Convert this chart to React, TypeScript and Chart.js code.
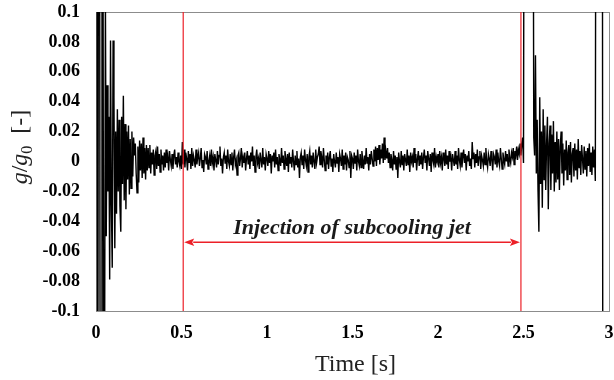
import React, { useEffect, useRef } from "react";
import { Chart, registerables } from "chart.js";

Chart.register(...registerables);

// sampling interval of the recorded signal [s]
const SAMPLE_INTERVAL = 0.005;

// g/g0, one value per sample (0 s ... 3 s)
const gSignal: number[] = [
  0.25, 0.3, -0.3, 0.28, 0.3, -0.26, -0.3, 0.22, 0.25, -0.2, -0.15, 0.11, -0.05, 0.051, -0.02, 0.03, -0.079, 0.081, -0.03, -0.071,
  0.081, 0.043, -0.058, 0.02, -0.035, 0.035, -0.02, 0.028, -0.03, -0.047, 0.03, -0.015, 0.044, -0.026, 0.025, -0.032, 0.02, -0.012, 0.024, -0.022,
  0.015, -0.018, 0.02, -0.01, 0.016, 0.004, 0.012, -0.008, -0.021, 0.01, -0.014, 0.014, -0.006, 0.012, -0.011, 0.016, -0.008, 0.009, -0.012, 0.011,
  -0.006, 0.009, -0.004, 0.011, -0.008, 0.006, -0.002, 0.008, -0.009, 0.004, 0.007, -0.005, 0.01, -0.003, 0.005, -0.007, 0.008, -0.002, 0.004, -0.006,
  0.006, -0.004, 0.008, -0.001, 0.003, -0.006, 0.007, 0.001, -0.003, 0.005, -0.005, 0.004, 0.008, -0.002, 0.003, -0.004, 0.006, 0.0, -0.003, 0.004,
  -0.005, 0.013, -0.002, 0.008, -0.004, 0.006, 0.002, -0.006, 0.007, -0.001, 0.005, -0.005, 0.009, -0.003, 0.004, 0.001, -0.004, 0.008, -0.002, 0.003,
  0.006, -0.003, 0.002, 0.009, -0.004, 0.001, -0.007, 0.005, 0.003, -0.002, 0.007, -0.005, 0.0, 0.004, -0.003, 0.008, -0.001, 0.003, -0.006, 0.005,
  0.001, -0.004, 0.007, -0.002, 0.004, 0.01, -0.003, 0.002, -0.008, 0.003, 0.006, -0.001, 0.004, -0.005, 0.008, 0.0, -0.003, 0.005, -0.002, 0.006,
  -0.006, 0.003, 0.008, -0.002, 0.001, -0.009, 0.004, 0.006, -0.003, 0.002, 0.009, -0.004, 0.003, -0.001, 0.006, -0.006, 0.002, 0.007, -0.002, 0.004,
  -0.005, 0.006, 0.0, 0.01, -0.003, 0.004, -0.007, 0.003, 0.008, -0.001, 0.002, -0.005, 0.006, 0.001, -0.004, 0.009, -0.002, 0.003, -0.006, 0.005,
  0.002, -0.003, 0.007, -0.001, 0.005, -0.008, 0.004, 0.0, 0.006, -0.004, 0.008, -0.002, 0.003, -0.006, 0.005, 0.001, -0.003, 0.009, -0.001, 0.004,
  -0.005, 0.007, 0.002, -0.003, 0.005, -0.007, 0.006, -0.001, 0.003, -0.004, 0.008, 0.0, -0.006, 0.004, -0.002, 0.007, -0.004, 0.002, -0.011, 0.003,
  0.006, -0.002, 0.004, -0.005, 0.008, 0.001, -0.003, 0.005, -0.007, 0.003, 0.007, -0.002, 0.004, -0.004, 0.006, 0.0, -0.005, 0.008, -0.001, 0.003,
  0.005, 0.01, -0.002, 0.007, 0.003, -0.004, 0.009, 0.001, -0.006, 0.004, -0.002, 0.006, -0.005, 0.003, 0.007, -0.003, 0.002, -0.007, 0.005, 0.0,
  -0.004, 0.006, -0.001, 0.003, -0.007, 0.005, 0.002, -0.003, 0.008, -0.005, 0.004, -0.002, 0.006, -0.006, 0.003, 0.001, -0.004, 0.007, -0.011, 0.004,
  0.002, -0.005, 0.006, -0.001, 0.004, -0.006, 0.008, 0.0, -0.003, 0.005, -0.004, 0.007, 0.001, -0.005, 0.004, -0.002, 0.009, -0.001, 0.003, -0.006,
  0.005, -0.002, 0.007, 0.002, -0.003, 0.008, 0.0, 0.01, -0.003, 0.009, 0.001, 0.011, -0.002, 0.008, 0.002, 0.012, -0.001, 0.016, 0.001, 0.007,
  0.002, 0.009, -0.001, 0.006, -0.004, 0.005, 0.001, -0.006, 0.007, -0.002, 0.004, -0.005, 0.003, -0.011, 0.006, 0.0, -0.004, 0.007, -0.002, 0.004,
  -0.006, 0.005, 0.001, -0.003, 0.008, -0.002, 0.004, -0.007, 0.006, 0.0, 0.003, -0.004, 0.009, -0.001, 0.005, -0.006, 0.002, 0.007, -0.003, 0.004,
  -0.002, 0.006, -0.005, 0.003, 0.008, -0.001, 0.004, -0.006, 0.007, 0.002, -0.003, 0.005, -0.007, 0.006, 0.001, -0.002, 0.009, -0.004, 0.003, 0.0,
  0.005, -0.004, 0.007, -0.001, 0.003, -0.006, 0.006, 0.002, -0.003, 0.008, -0.002, 0.004, -0.005, 0.007, 0.0, 0.003, -0.006, 0.005, 0.001, -0.003,
  0.007, -0.002, 0.004, -0.005, 0.009, 0.001, -0.003, 0.006, -0.004, 0.003, 0.008, -0.001, 0.005, -0.006, 0.004, 0.0, 0.007, -0.003, 0.002, -0.005,
  0.013, 0.002, 0.006, -0.004, 0.005, -0.001, 0.008, -0.003, 0.003, 0.007, -0.005, 0.004, 0.001, -0.003, 0.006, -0.002, 0.009, 0.0, -0.004, 0.005,
  0.002, -0.003, 0.007, 0.001, -0.006, 0.005, 0.003, -0.002, 0.008, -0.004, 0.006, 0.0, -0.003, 0.009, 0.002, -0.005, 0.006, 0.001, -0.002, 0.007,
  0.0, 0.005, -0.003, 0.008, 0.002, -0.001, 0.006, 0.003, 0.009, -0.002, 0.007, 0.004, 0.01, 0.001, 0.008, 0.005, 0.012, 0.004, 0.012, 0.016,
  -0.001, 0.35, 0.42, 0.38, 0.45, 0.36, 0.4, 0.33, 0.39, 0.44, 0.37, 0.31, 0.016, 0.004, 0.071, -0.008, 0.028, -0.02, -0.047, 0.043,
  -0.015, 0.02, -0.031, 0.035, -0.012, 0.024, -0.019, 0.012, 0.03, -0.032, 0.012, 0.024, -0.019, 0.018, -0.008, 0.027, -0.02, 0.013, -0.014, 0.02,
  -0.012, 0.015, -0.019, 0.01, 0.02, -0.008, 0.012, -0.016, 0.008, -0.006, 0.014, -0.012, 0.006, 0.011, -0.009, 0.013, -0.014, 0.005, 0.009, -0.01,
  0.012, -0.006, 0.008, -0.012, 0.015, -0.004, 0.007, -0.009, 0.011, 0.002, -0.008, 0.01, -0.005, 0.007, -0.01, 0.009, -0.003, 0.012, -0.007, 0.006,
  -0.009, 0.01, -0.004, 0.008, -0.013, 0.36, 0.42, 0.35, 0.4, 0.45, 0.38, 0.33, 0.41, -0.36, -0.42, -0.38, -0.45, -0.4, -0.37, -0.43, -0.39,
];

const X_TICKS = [0, 0.5, 1, 1.5, 2, 2.5, 3];
const X_TICK_LABELS = ["0", "0.5", "1", "1.5", "2", "2.5", "3"];
const Y_TICKS = [-0.1, -0.08, -0.06, -0.04, -0.02, 0, 0.02, 0.04, 0.06, 0.08, 0.1];
const Y_TICK_LABELS = ["-0.1", "-0.08", "-0.06", "-0.04", "-0.02", "0", "0.02", "0.04", "0.06", "0.08", "0.1"];

const X_MIN = 0;
const X_MAX = 3;
const Y_MIN = -0.1;
const Y_MAX = 0.1;

// injection period markers
const INJECTION_START = 0.51;
const INJECTION_END = 2.485;
const ARROW_Y = -0.054;
const LABEL_Y = -0.0485;
const ANNOTATION_TEXT = "Injection of subcooling jet";
const X_TITLE = "Time [s]";

const RED = "rgb(236, 32, 40)";
const FRAME = "#8c8c8c";
const SERIF = "'Liberation Serif', 'Times New Roman', serif";

const decorPlugin = {
  id: "decor",
  beforeDatasetsDraw(chart: any) {
    const { ctx, chartArea: a } = chart;
    ctx.save();
    ctx.strokeStyle = FRAME;
    ctx.lineWidth = 1;
    ctx.strokeRect(Math.round(a.left) + 0.5, Math.round(a.top) + 0.5, Math.round(a.right - a.left), Math.round(a.bottom - a.top));
    ctx.restore();
  },
  afterDatasetsDraw(chart: any) {
    const { ctx } = chart;
    const xs = chart.scales.x;
    const ys = chart.scales.y;
    const x1 = xs.getPixelForValue(INJECTION_START);
    const x2 = xs.getPixelForValue(INJECTION_END);
    const y = ys.getPixelForValue(ARROW_Y);
    const head = 11;
    const half = 3.8;
    ctx.save();
    ctx.strokeStyle = RED;
    ctx.fillStyle = RED;
    ctx.lineWidth = 1.5;
    ctx.beginPath();
    ctx.moveTo(x1 + head - 1, y);
    ctx.lineTo(x2 - head + 1, y);
    ctx.stroke();
    ctx.beginPath();
    ctx.moveTo(x1 + 1, y);
    ctx.lineTo(x1 + head, y - half);
    ctx.lineTo(x1 + head - 2, y);
    ctx.lineTo(x1 + head, y + half);
    ctx.closePath();
    ctx.fill();
    ctx.beginPath();
    ctx.moveTo(x2 - 1, y);
    ctx.lineTo(x2 - head, y - half);
    ctx.lineTo(x2 - head + 2, y);
    ctx.lineTo(x2 - head, y + half);
    ctx.closePath();
    ctx.fill();
    ctx.fillStyle = "#1a1a1a";
    ctx.font = `italic bold 22px ${SERIF}`;
    ctx.textAlign = "center";
    ctx.textBaseline = "alphabetic";
    ctx.fillText(ANNOTATION_TEXT, (x1 + x2) / 2, ys.getPixelForValue(LABEL_Y));
    ctx.restore();
  },
  afterDraw(chart: any) {
    const { ctx, chartArea: a } = chart;
    ctx.save();
    ctx.fillStyle = "#222";
    // x-axis title
    ctx.font = `24px ${SERIF}`;
    ctx.textAlign = "center";
    ctx.textBaseline = "alphabetic";
    ctx.fillText(X_TITLE, (a.left + a.right) / 2 + 3, 371);
    // y-axis title: g/g0 [-]
    const parts = [
      { t: "g", f: `italic 24px ${SERIF}`, dy: 0 },
      { t: "/", f: `24px ${SERIF}`, dy: 0 },
      { t: "g", f: `italic 24px ${SERIF}`, dy: 0 },
      { t: "0", f: `16px ${SERIF}`, dy: 5 },
      { t: "  [-]", f: `24px ${SERIF}`, dy: 0 },
    ];
    let total = 0;
    const widths = parts.map((p) => {
      ctx.font = p.f;
      const w = ctx.measureText(p.t).width;
      total += w;
      return w;
    });
    ctx.translate(27, 147);
    ctx.rotate(-Math.PI / 2);
    ctx.textAlign = "left";
    let x = -total / 2;
    parts.forEach((p, i) => {
      ctx.font = p.f;
      ctx.fillText(p.t, x, p.dy);
      x += widths[i];
    });
    ctx.restore();
  },
};

export default function App() {
  const ref = useRef<HTMLCanvasElement>(null);
  useEffect(() => {
    const canvas = ref.current;
    if (!canvas) return;
    const signalPoints = gSignal.map((g, i) => ({ x: i * SAMPLE_INTERVAL, y: g }));
    const tickFont = { family: SERIF, size: 18, weight: "bold" as const };
    const chart = new Chart(canvas, {
      type: "line",
      data: {
        datasets: [
          {
            data: [
              { x: INJECTION_START, y: Y_MIN },
              { x: INJECTION_START, y: Y_MAX },
            ],
            borderColor: RED,
            borderWidth: 1.2,
            pointRadius: 0,
            order: 0,
          },
          {
            data: [
              { x: INJECTION_END, y: Y_MIN },
              { x: INJECTION_END, y: Y_MAX },
            ],
            borderColor: RED,
            borderWidth: 1.2,
            pointRadius: 0,
            order: 0,
          },
          {
            data: signalPoints,
            borderColor: "#000",
            borderWidth: 1.4,
            pointRadius: 0,
            tension: 0,
            order: 1,
          },
        ],
      },
      options: {
        responsive: false,
        animation: false,
        devicePixelRatio: 1,
        events: [],
        layout: { padding: { left: 0, top: 12, right: 5, bottom: 0 } },
        plugins: { legend: { display: false }, tooltip: { enabled: false } },
        scales: {
          x: {
            type: "linear",
            min: X_MIN,
            max: X_MAX,
            grid: { display: false, drawTicks: false },
            border: { display: false },
            afterBuildTicks: (s: any) => {
              s.ticks = X_TICKS.map((v) => ({ value: v }));
            },
            afterFit: (s: any) => {
              s.height = 69;
              s.paddingLeft = 0;
              s.paddingRight = 0;
            },
            ticks: {
              autoSkip: false,
              maxRotation: 0,
              padding: 12,
              color: "#000",
              font: tickFont,
              callback: (v: any) => X_TICK_LABELS[X_TICKS.indexOf(Number(v))] ?? "",
            },
          },
          y: {
            type: "linear",
            min: Y_MIN,
            max: Y_MAX,
            grid: { display: false, drawTicks: false },
            border: { display: false },
            afterBuildTicks: (s: any) => {
              s.ticks = Y_TICKS.map((v) => ({ value: v }));
            },
            afterFit: (s: any) => {
              s.width = 96;
              s.paddingTop = 0;
              s.paddingBottom = 0;
            },
            ticks: {
              autoSkip: false,
              padding: 16,
              color: "#000",
              font: tickFont,
              callback: (v: any) => Y_TICK_LABELS[Y_TICKS.indexOf(Number(v))] ?? "",
            },
          },
        },
      },
      plugins: [decorPlugin],
    });
    return () => chart.destroy();
  }, []);
  return (
    <div style={{ position: "fixed", left: 0, top: 0, width: 614, height: 380, background: "#fff" }}>
      <canvas ref={ref} width={614} height={380} style={{ display: "block" }} />
    </div>
  );
}
